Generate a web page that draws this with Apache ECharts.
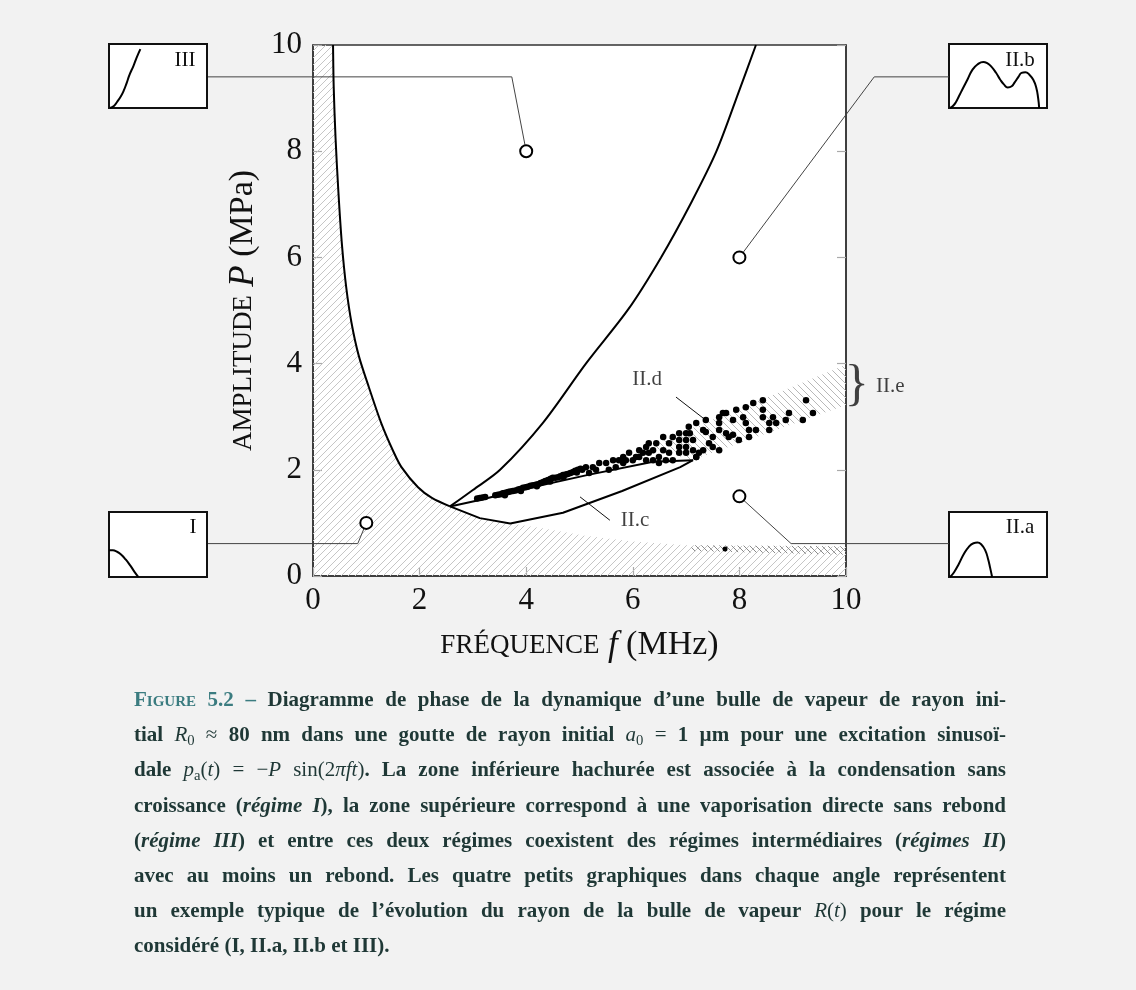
<!DOCTYPE html>
<html>
<head>
<meta charset="utf-8">
<script src="https://cdn.jsdelivr.net/npm/echarts@6/dist/echarts.min.js"></script>
<style>
html, body { margin: 0; padding: 0; background: #f2f2f2; }
#chart { position: absolute; left: 0; top: 0; width: 1136px; height: 990px; }
#caption { position: absolute; left: 134px; top: 682px; width: 872px;
  font-family: 'Liberation Serif', serif; font-weight: bold; font-size: 21px;
  line-height: 35.2px; color: #1f3836; }
#caption div { text-align: justify; text-align-last: justify; }
#caption div.last { text-align-last: left; }
.fig { color: #3b7c80; font-variant: small-caps; }
.m { font-weight: normal; }
sub { font-size: 70%; line-height: 0; vertical-align: -0.25em; }
</style>
</head>
<body>
<div id="chart"></div>
<div id="caption">
<div><span class="fig">Figure 5.2 –</span> Diagramme de phase de la dynamique d’une bulle de vapeur de rayon ini-</div>
<div>tial <span class="m"><i>R</i><sub>0</sub> ≈</span> 80 nm dans une goutte de rayon initial <span class="m"><i>a</i><sub>0</sub> =</span> 1 µm pour une excitation sinusoï-</div>
<div>dale <span class="m"><i>p</i><sub>a</sub>(<i>t</i>) = −<i>P</i> sin(2<i>πft</i>)</span>. La zone inférieure hachurée est associée à la condensation sans</div>
<div>croissance (<i>régime I</i>), la zone supérieure correspond à une vaporisation directe sans rebond</div>
<div>(<i>régime III</i>) et entre ces deux régimes coexistent des régimes intermédiaires (<i>régimes II</i>)</div>
<div>avec au moins un rebond. Les quatre petits graphiques dans chaque angle représentent</div>
<div>un exemple typique de l’évolution du rayon de la bulle de vapeur <span class="m"><i>R</i>(<i>t</i>)</span> pour le régime</div>
<div class="last">considéré (I, II.a, II.b et III).</div>
</div>
<script>
// boundary curves (f in MHz, P in MPa)
const leftBranch = [[0.376,10],[0.389,9.19],[0.423,8.25],[0.476,7.24],[0.543,6.24],[0.624,5.43],[0.724,4.76],
  [0.858,4.15],[1.05,3.55],[1.28,2.88],[1.51,2.34],[1.66,2.05],[1.97,1.67],[2.23,1.47],[2.57,1.31]];
const rightBranch = [[2.57,1.31],[3.0,1.62],[3.51,2.0],[4.31,2.88],[5.12,4.0],[5.92,5.03],[6.53,6.0],
  [7.1,7.04],[7.57,8.0],[8.0,9.15],[8.31,10]];
const lowerLoop = [[2.57,1.31],[3.13,1.09],[3.7,0.99],[4.69,1.19],[5.8,1.6],[6.89,2.05],[7.13,2.18]];
const upperLoop = [[7.13,2.18],[6.38,2.15],[5.14,1.90],[3.88,1.62],[3.13,1.43],[2.57,1.31]];

// hatched zones
const regimeIEdge = [[3.13,1.09],[3.7,0.99],[4.3,0.9],[5.1,0.76],[6.0,0.65],[7.0,0.58],[8.5,0.56],[10,0.55]];
const regimeIZone = [[0,0],[0,10]].concat(leftBranch, regimeIEdge, [[10,0]]);
const darkStrip = [[7.1,0.58],[10,0.56],[10,0.40],[7.1,0.47]];
const bandIIe = [[6.3,2.45],[10,3.98],[10,3.22],[7.1,2.18]];

// simulated points
const bubbleDots = [
  [3.08,1.46],[3.13,1.47],[3.18,1.48],[3.23,1.49],
  [3.42,1.52],[3.47,1.53],[3.52,1.54],[3.56,1.56],[3.61,1.57],[3.66,1.58],[3.70,1.59],[3.75,1.60],[3.80,1.61],
  [3.85,1.63],[3.89,1.64],[3.94,1.66],[3.99,1.67],[4.03,1.68],[4.08,1.70],[4.13,1.71],[4.18,1.72],[4.22,1.73],
  [4.27,1.75],[4.32,1.77],[4.36,1.79],[4.41,1.81],[4.46,1.83],[4.50,1.85],[4.55,1.85],[4.60,1.86],[4.64,1.88],
  [4.69,1.90],[4.74,1.91],[4.78,1.92],[4.83,1.94],[4.88,1.96],[4.92,1.98],[4.97,2.00],[5.02,2.02],
  [3.60,1.52],[3.90,1.60],[4.20,1.69],[4.45,1.78],[4.70,1.86],[4.95,1.95],
  [5.05,2.00],[5.12,2.05],[5.18,1.94],[5.25,2.05],[5.31,2.00],[5.37,2.13],[5.50,2.13],[5.55,2.00],[5.63,2.18],
  [5.68,2.05],[5.74,2.18],[5.82,2.24],[5.82,2.13],[5.87,2.18],[5.93,2.32],[6.00,2.18],[6.06,2.24],[6.12,2.37],
  [6.12,2.24],[6.19,2.32],[6.25,2.43],[6.25,2.18],[6.30,2.50],[6.30,2.32],[6.38,2.37],[6.38,2.18],[6.44,2.50],
  [6.49,2.24],[6.49,2.13],[6.57,2.37],[6.57,2.62],[6.62,2.18],[6.68,2.50],[6.68,2.32],[6.75,2.62],[6.75,2.18],
  [6.87,2.69],[6.87,2.56],[6.87,2.43],[6.87,2.32],[7.00,2.69],[7.00,2.56],[7.00,2.43],[7.00,2.32],[7.05,2.81],
  [7.13,2.56],[7.13,2.37],[7.19,2.24],
  [7.07,2.69],[7.19,2.88],[7.37,2.94],[7.62,2.88],[7.62,2.99],[7.69,3.07],[7.75,3.07],[7.94,3.13],[7.88,2.94],
  [8.07,2.99],[8.12,3.18],[8.26,3.26],[8.44,3.31],[8.44,3.13],[8.44,2.99],[8.63,2.99],[8.56,2.88],[8.69,2.88],
  [8.12,2.88],[8.18,2.75],[8.31,2.75],[8.56,2.75],[8.87,2.94],[8.93,3.07],[9.25,3.31],[9.38,3.07],[9.19,2.94],
  [7.62,2.75],[7.75,2.69],[7.80,2.62],[7.88,2.66],[7.99,2.56],[8.18,2.62],[7.32,2.75],[7.37,2.71],[7.50,2.62],
  [7.43,2.50],[7.50,2.43],[7.62,2.37],[7.32,2.37],[7.24,2.32],[7.19,2.24]
];
const lonelyDot = [[7.73,0.51]];

// callouts and leaders
const calloutPoints = [[4,8],[8,6],[8,1.5],[1,1]];
const leaderIII = [[4,8],[3.73,9.40],[-1.97,9.40]];
const leaderIIb = [[8,6],[10.53,9.40],[11.93,9.40]];
const leaderIIa = [[8,1.5],[8.97,0.61],[11.93,0.61]];
const leaderI = [[1,1],[0.84,0.61],[-1.97,0.61]];
const leaderIId = [[6.81,3.37],[7.35,2.95]];
const leaderIIc = [[5.01,1.49],[5.57,1.05]];
const regionLabels = [
  { name: 'II.d', value: [6.27,3.71] },
  { name: 'II.c', value: [6.04,1.05] },
  { name: 'II.e', value: [10.83,3.56] }
];
const bracePos = [{ name: '}', value: [10.2,3.58] }];

// inset curves R(t), normalised
const insetIII = [[0.01,0],[0.05,0.03],[0.08,0.09],[0.12,0.18],[0.15,0.27],[0.18,0.39],[0.21,0.52],[0.25,0.66],[0.28,0.78],[0.32,0.92]];
const insetIIb = [[0.01,0],[0.04,0.03],[0.07,0.09],[0.1,0.18],[0.14,0.3],[0.19,0.45],[0.24,0.6],[0.29,0.68],[0.35,0.72],
  [0.39,0.7],[0.43,0.65],[0.48,0.55],[0.52,0.45],[0.56,0.37],[0.60,0.32],[0.64,0.34],[0.67,0.4],[0.71,0.49],[0.74,0.55],
  [0.78,0.56],[0.82,0.52],[0.86,0.44],[0.89,0.32],[0.91,0.15],[0.92,0]];
const insetI = [[0,0.41],[0.04,0.41],[0.08,0.39],[0.12,0.35],[0.17,0.27],[0.22,0.17],[0.26,0.08],[0.30,0]];
const insetIIa = [[0.01,0],[0.05,0.07],[0.1,0.2],[0.15,0.35],[0.2,0.46],[0.25,0.52],[0.29,0.53],[0.33,0.5],
  [0.37,0.41],[0.40,0.27],[0.42,0.14],[0.44,0]];
const insetNames = ['III', 'II.b', 'I', 'II.a'];

const FONT = "'Liberation Serif', serif";

function hatch(dir, color, gap) {
  const c = document.createElement('canvas');
  c.width = c.height = gap;
  const g = c.getContext('2d');
  g.strokeStyle = color;
  g.lineWidth = 1;
  g.beginPath();
  if (dir === '/') {
    g.moveTo(0, gap); g.lineTo(gap, 0);
    g.moveTo(-1, 1); g.lineTo(1, -1);
    g.moveTo(gap - 1, gap + 1); g.lineTo(gap + 1, gap - 1);
  } else {
    g.moveTo(0, 0); g.lineTo(gap, gap);
    g.moveTo(gap - 1, -1); g.lineTo(gap + 1, 1);
    g.moveTo(-1, gap - 1); g.lineTo(1, gap + 1);
  }
  g.stroke();
  return { image: c, repeat: 'repeat' };
}

function zone(points, fill, z) {
  return {
    type: 'custom', coordinateSystem: 'cartesian2d', xAxisIndex: 0, yAxisIndex: 0,
    data: [[0, 0]], silent: true, z: z,
    renderItem: function (params, api) {
      return { type: 'polygon', shape: { points: points.map(function (p) { return api.coord(p); }) }, style: { fill: fill } };
    }
  };
}

// leader lines may leave the plot, so they are drawn by a custom series (not clipped)
function leader(points, color) {
  return {
    type: 'custom', coordinateSystem: 'cartesian2d', xAxisIndex: 0, yAxisIndex: 0,
    data: [[0, 0]], silent: true, z: 3, clip: false,
    renderItem: function (params, api) {
      return { type: 'polyline', shape: { points: points.map(function (p) { return api.coord(p); }) },
        style: { stroke: color, lineWidth: 1, fill: null } };
    }
  };
}

function curve(data, smooth) {
  return {
    type: 'line', xAxisIndex: 0, yAxisIndex: 0, data: data, showSymbol: false, silent: true,
    smooth: smooth, z: 4, lineStyle: { color: '#000', width: 2 }
  };
}

const chart = echarts.init(document.getElementById('chart'));

const insetBoxes = [
  { left: 109, top: 44, width: 98, height: 64 },
  { left: 949, top: 44, width: 98, height: 64 },
  { left: 109, top: 512, width: 98, height: 65 },
  { left: 949, top: 512, width: 98, height: 65 }
];
const insetCurves = [insetIII, insetIIb, insetI, insetIIa];
const insetLabelPos = [[185, 60], [1020, 60], [193, 527], [1020, 527]];

const grids = [{ left: 313, top: 45, width: 533, height: 531, show: true, backgroundColor: '#fff',
  borderColor: '#333', borderWidth: 1.5, outerBoundsMode: 'none' }];
insetBoxes.forEach(function (b) {
  grids.push(Object.assign({ show: true, backgroundColor: '#fff', borderColor: '#111', borderWidth: 2, outerBoundsMode: 'none' }, b));
});

const tickStyle = { inside: true, length: 9, lineStyle: { color: '#aaa', width: 1.2 } };
const axisLineStyle = { show: true, lineStyle: { color: '#333', width: 1.5 } };
const nameRich = {
  sc: { fontFamily: FONT, fontSize: 27, color: '#111' },
  it: { fontFamily: FONT, fontSize: 35, fontStyle: 'italic', color: '#111' },
  n: { fontFamily: FONT, fontSize: 34, color: '#111' }
};

const xAxes = [{
  gridIndex: 0, type: 'value', min: 0, max: 10, interval: 2,
  axisLine: axisLineStyle, axisTick: tickStyle, splitLine: { show: false },
  axisLabel: { fontFamily: FONT, fontSize: 31, color: '#111', margin: 9 },
  name: '{sc|FRÉQUENCE} {it|f} {n|(MHz)}', nameLocation: 'middle', nameGap: 52,
  nameTextStyle: { fontFamily: FONT, fontSize: 34, color: '#111', rich: nameRich }
}];
const yAxes = [{
  gridIndex: 0, type: 'value', min: 0, max: 10, interval: 2,
  axisLine: axisLineStyle, axisTick: tickStyle, splitLine: { show: false },
  axisLabel: { fontFamily: FONT, fontSize: 31, color: '#111', margin: 11 },
  name: '{sc|AMPLITUDE} {it|P} {n|(MPa)}', nameLocation: 'middle', nameGap: 52, nameRotate: 90,
  nameTextStyle: { fontFamily: FONT, fontSize: 34, color: '#111', rich: nameRich }
}, {
  gridIndex: 0, type: 'value', position: 'right', min: 0, max: 10, interval: 2,
  axisLine: axisLineStyle, axisTick: tickStyle, axisLabel: { show: false }, splitLine: { show: false }
}];
insetBoxes.forEach(function (b, i) {
  xAxes.push({ gridIndex: i + 1, type: 'value', min: 0, max: 1, show: false });
  yAxes.push({ gridIndex: i + 1, type: 'value', min: 0, max: 1, show: false });
});

const series = [
  zone(regimeIZone, hatch('/', '#c6c6c6', 7), 1),
  zone(darkStrip, hatch('\\', '#8a8a8a', 6), 2),
  zone(bandIIe, hatch('\\', '#b8b8b8', 7), 1),
  curve(leftBranch, 0.3),
  curve(rightBranch, 0.3),
  curve(lowerLoop, false),
  curve(upperLoop, false),
  leader(leaderIII, '#444'),
  leader(leaderIIb, '#444'),
  leader(leaderIIa, '#444'),
  leader(leaderI, '#444'),
  leader(leaderIId, '#111'),
  leader(leaderIIc, '#111'),
  { type: 'scatter', xAxisIndex: 0, yAxisIndex: 0, data: bubbleDots, symbolSize: 6.5, silent: true, z: 5,
    itemStyle: { color: '#000', opacity: 1 } },
  { type: 'scatter', xAxisIndex: 0, yAxisIndex: 0, data: lonelyDot, symbolSize: 5, silent: true, z: 5,
    itemStyle: { color: '#000', opacity: 1 } },
  { type: 'scatter', xAxisIndex: 0, yAxisIndex: 0, data: calloutPoints, symbolSize: 12, silent: true, z: 6,
    itemStyle: { color: '#fff', borderColor: '#000', borderWidth: 2, opacity: 1 } },
  { type: 'scatter', xAxisIndex: 0, yAxisIndex: 0, data: regionLabels, symbolSize: 1, silent: true, z: 6, clip: false,
    itemStyle: { color: 'rgba(0,0,0,0)' },
    label: { show: true, position: 'inside', formatter: '{b}', fontFamily: FONT, fontSize: 21, color: '#111' } },
  { type: 'scatter', xAxisIndex: 0, yAxisIndex: 0, data: bracePos, symbolSize: 1, silent: true, z: 6, clip: false,
    itemStyle: { color: 'rgba(0,0,0,0)' },
    label: { show: true, position: 'inside', formatter: '{b}', fontFamily: FONT, fontSize: 50, color: '#111' } }
];
insetCurves.forEach(function (d, i) {
  series.push({ type: 'line', xAxisIndex: i + 1, yAxisIndex: i + 2, data: d, smooth: true, showSymbol: false,
    silent: true, lineStyle: { color: '#000', width: 2 } });
});

const graphics = insetNames.map(function (t, i) {
  return { type: 'text', x: insetLabelPos[i][0], y: insetLabelPos[i][1], z: 10,
    style: { text: t, fontFamily: FONT, fontSize: 21, fill: '#111', align: 'center', verticalAlign: 'middle' } };
});

chart.setOption({
  backgroundColor: '#f2f2f2',
  animation: false,
  grid: grids,
  xAxis: xAxes,
  yAxis: yAxes,
  series: series,
  graphic: graphics
});
</script>
</body>
</html>
